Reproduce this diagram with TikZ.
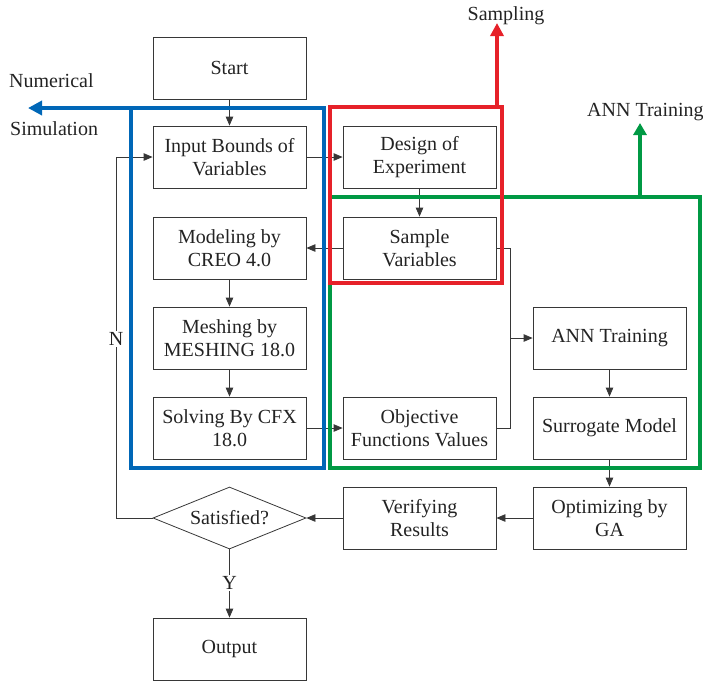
\documentclass[tikz,border=0pt]{standalone}
\usepackage{fontspec}
\setmainfont{Liberation Serif}
\usetikzlibrary{arrows.meta,shapes.geometric}

\definecolor{simblue}{RGB}{0,103,183}
\definecolor{samred}{RGB}{230,33,41}
\definecolor{anngreen}{RGB}{0,153,68}
\definecolor{ink}{RGB}{35,35,35}
\definecolor{edge}{RGB}{55,55,55}

\tikzset{
  stepbox/.style={draw=edge, line width=0.8pt, minimum width=153pt, minimum height=62pt,
    inner sep=0pt, align=center, text=ink},
  decision/.style={draw=edge, line width=0.8pt, shape=diamond, aspect=2.47,
    minimum width=153pt, minimum height=62pt, inner sep=0pt, text=ink},
  arr/.style={draw=edge, line width=0.8pt, -{Triangle[length=9pt,width=7.5pt]}},
  link/.style={draw=edge, line width=0.8pt},
  tag/.style={text=ink, inner sep=1pt},
  group/.style={line width=4pt},
}

\begin{document}
\begin{tikzpicture}[x=1pt, y=-1pt, font=\fontsize{20}{23}\selectfont]
\useasboundingbox (0,0) rectangle (703,681);

% process steps
\node[stepbox] (start)  at (229.5,68)  {Start};
\node[stepbox] (input)  at (229.5,157)   {Input Bounds of\\Variables};
\node[stepbox] (doe)    at (419.5,157)   {Design of\\Experiment};
\node[stepbox] (sample) at (419.5,248)   {Sample\\Variables};
\node[stepbox] (model)  at (229.5,248)   {Modeling by\\CREO 4.0};
\node[stepbox] (mesh)   at (229.5,338)   {Meshing by\\MESHING 18.0};
\node[stepbox] (solve)  at (229.5,428)   {Solving By CFX\\18.0};
\node[stepbox] (obj)    at (419.5,428)   {Objective\\Functions Values};
\node[stepbox] (ann)    at (609.5,338)   {ANN Training};
\node[stepbox] (surr)   at (609.5,428)   {Surrogate Model};
\node[stepbox] (ga)     at (609.5,518)   {Optimizing by\\GA};
\node[stepbox] (verify) at (419.5,518)   {Verifying\\Results};
\node[decision] (sat)   at (229.5,518)   {Satisfied?};
\node[stepbox] (out)    at (229.5,649)   {Output};

% flow connectors
\draw[arr] (start) -- (input);
\draw[arr] (input) -- (doe);
\draw[arr] (doe) -- (sample);
\draw[arr] (sample) -- (model);
\draw[arr] (model) -- (mesh);
\draw[arr] (mesh) -- (solve);
\draw[arr] (solve) -- (obj);
\coordinate (merge) at (510,338);
\draw[link] (sample.east) -| (merge);
\draw[link] (obj.east) -| (merge);
\draw[arr] (merge) -- (ann.west);
\draw[arr] (ann) -- (surr);
\draw[arr] (surr) -- (ga);
\draw[arr] (ga) -- (verify);
\draw[arr] (verify) -- (sat.east);
\draw[arr] (sat.south) -- (out.north);
\draw[arr] (sat.west) -- (116,518) |- (input.west);
\node[tag, fill=white] (no)  at (116,339) {N};
\node[tag, fill=white] (yes) at (229.5,583) {Y};

% stage groups
\draw[group, anngreen] (329.5,197) rectangle (700,468);
\draw[group, anngreen, -{Triangle[length=12pt,width=13pt]}] (640,197) -- (640,123);
\draw[group, samred] (330,107) rectangle (501.5,283);
\draw[group, samred, -{Triangle[length=13pt,width=13pt]}] (497,107) -- (497,23);
\draw[group, simblue] (131,108) rectangle (323.5,468);
\draw[group, simblue, -{Triangle[length=14pt,width=14pt]}] (131,108) -- (28,108);

% group labels
\node[tag, anchor=west] (numlab) at (8,81)  {Numerical};
\node[tag, anchor=west] (simlab) at (9,129) {Simulation};
\node[tag] (samlab) at (506,16) {Sampling};
\node[tag, anchor=west] (annlab) at (586,112) {ANN Training};
\end{tikzpicture}
\end{document}
